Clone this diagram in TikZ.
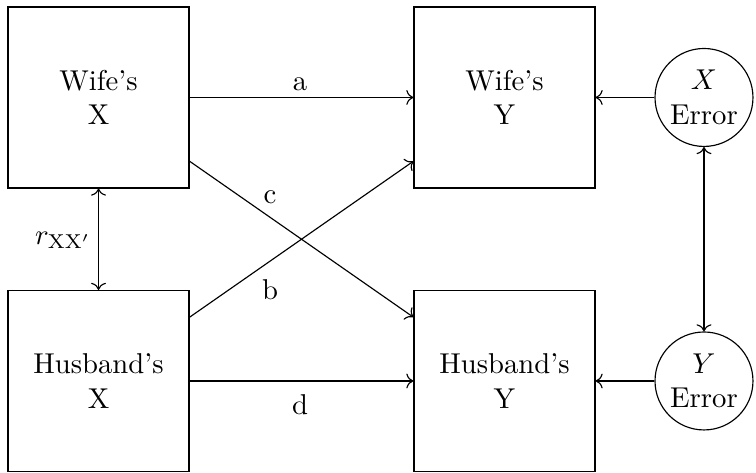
\documentclass[tikz,border=0pt]{standalone}
\usepackage{amsmath}
\usetikzlibrary{arrows.meta,positioning}

\begin{document}
\begin{tikzpicture}[every node/.style={font=\normalsize},
  var/.style={draw,minimum width=2.217cm,minimum height=2.217cm,inner sep=0pt,align=center},
  err/.style={draw,circle,minimum size=1.2cm,inner sep=0pt,align=center}]
\useasboundingbox (0,0) rectangle (9.261,5.794);
\node[var] (wx) at (1.207,4.600) {Wife's\\X};
\node[var] (wy) at (6.180,4.600) {Wife's\\Y};
\node[var] (hx) at (1.207,1.127) {Husband's\\X};
\node[var] (hy) at (6.180,1.127) {Husband's\\Y};
\node[err] (ex) at (8.624,4.600) {$X$\\Error};
\node[err] (ey) at (8.624,1.127) {$Y$\\Error};
\draw[->] (wx) -- (wy);
\draw[->] (hx) -- (hy);
\draw[->] (wx.-35) -- (hy.145);
\draw[->] (hx.35) -- (wy.-145);
\draw[<->] (wx) -- (hx);
\draw[->] (ex) -- (wy);
\draw[->] (ey) -- (hy);
\draw[<->] (ex) -- (ey);
\node (la) at (3.675,4.765) {a};
\node (ld) at (3.675,0.833) {d};
\node (lc) at (3.308,3.381) {c};
\node (lb) at (3.308,2.242) {b};
\node (lr) at (0.772,2.854) {$r_{\mathrm{XX'}}$};
\end{tikzpicture}
\end{document}
